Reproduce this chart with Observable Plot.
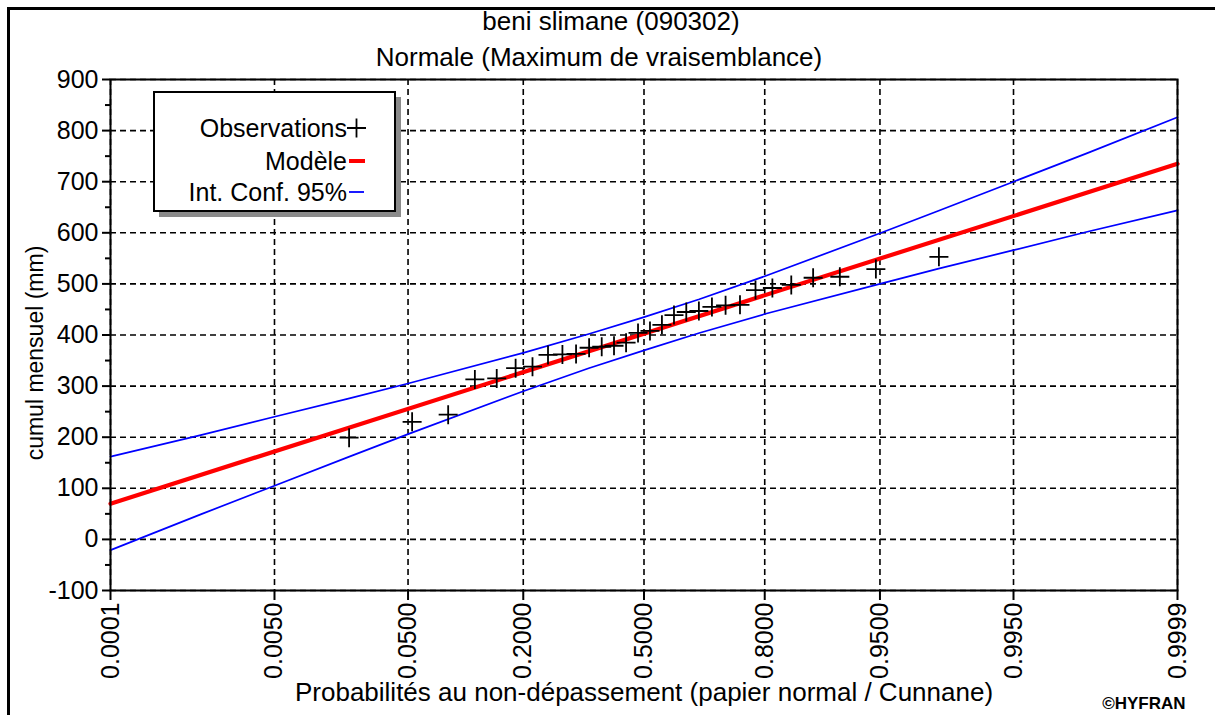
<!DOCTYPE html>
<html>
<head>
<meta charset="utf-8">
<script src="https://cdn.jsdelivr.net/npm/d3@7"></script>
<script src="https://cdn.jsdelivr.net/npm/@observablehq/plot@0.6"></script>
<style>
  html, body { margin: 0; padding: 0; background: #fff; overflow: hidden; }
  #wrap { position: relative; width: 1215px; height: 715px; overflow: hidden; background: #fff; }
  #wrap svg { position: absolute; left: 0; top: 0; }
  #border { position: absolute; left: 7px; top: 7px; width: 1300px; height: 900px; border-left: 3px solid #000; border-top: 3px solid #000; pointer-events: none; }
</style>
</head>
<body>
<div id="wrap"><div id="border"></div></div>
<script>
// ---- data ----
const titleText = "beni slimane (090302)";
const subtitleText = "Normale (Maximum de vraisemblance)";
const xTitle = "Probabilités au non-dépassement (papier normal / Cunnane)";
const yTitle = "cumul mensuel (mm)";

const xTickProbs = [0.0001, 0.005, 0.05, 0.2, 0.5, 0.8, 0.95, 0.995, 0.9999];
const xTickLabels = ["0.0001", "0.0050", "0.0500", "0.2000", "0.5000", "0.8000", "0.9500", "0.9950", "0.9999"];
const yTicks = [-100, 0, 100, 200, 300, 400, 500, 600, 700, 800, 900];
const yMinorTicks = [-50, 50, 150, 250, 350, 450, 550, 650, 750, 850];

// observations (Cunnane plotting positions, values in mm)
const obsProb = [0.0199, 0.0530, 0.0861, 0.1192, 0.1523, 0.1854, 0.2185, 0.2517, 0.2848, 0.3179,
                 0.3510, 0.3841, 0.4172, 0.4503, 0.4834, 0.5166, 0.5497, 0.5828, 0.6159, 0.6490,
                 0.6821, 0.7152, 0.7483, 0.7815, 0.8146, 0.8477, 0.8808, 0.9139, 0.9470, 0.9801];
const obsVal = [199, 230, 244, 313, 315, 335, 338, 361, 362, 363,
                375, 377, 379, 385, 404, 408, 420, 439, 445, 447,
                455, 458, 459, 488, 492, 498, 512, 514, 529, 553];

// fitted normal model
const modelProb = [0.0001, 0.9999];
const modelVal = [70, 735];

// 95% confidence interval
const ciProb  = [0.0001, 0.001, 0.005, 0.02, 0.05, 0.2, 0.35, 0.5, 0.65, 0.8, 0.95, 0.98, 0.995, 0.999, 0.9999];
const ciUpper = [162, 204, 240, 276, 305, 365, 402, 435, 470, 515, 599, 643, 700, 756, 826];
const ciLower = [-21, 49, 105, 162, 206, 290, 335, 370, 404, 441, 500, 530, 566, 602, 644];

// ---- normal probability paper transform (inverse normal CDF, Acklam) ----
function probit(p) {
  const a = [-3.969683028665376e+01, 2.209460984245205e+02, -2.759285104469687e+02, 1.383577518672690e+02, -3.066479806614716e+01, 2.506628277459239e+00];
  const b = [-5.447609879822406e+01, 1.615858368580409e+02, -1.556989798598866e+02, 6.680131188771972e+01, -1.328068155288572e+01];
  const c = [-7.784894002430293e-03, -3.223964580411365e-01, -2.400758277161838e+00, -2.549671910713209e+00, 4.374664141464968e+00, 2.938163982698783e+00];
  const d = [7.784695709041462e-03, 3.224671290700398e-01, 2.445134137142996e+00, 3.754408661907416e+00];
  const pl = 0.02425, ph = 1 - pl;
  let q, r;
  if (p < pl) {
    q = Math.sqrt(-2 * Math.log(p));
    return (((((c[0]*q+c[1])*q+c[2])*q+c[3])*q+c[4])*q+c[5]) / ((((d[0]*q+d[1])*q+d[2])*q+d[3])*q+1);
  }
  if (p > ph) {
    q = Math.sqrt(-2 * Math.log(1 - p));
    return -(((((c[0]*q+c[1])*q+c[2])*q+c[3])*q+c[4])*q+c[5]) / ((((d[0]*q+d[1])*q+d[2])*q+d[3])*q+1);
  }
  q = p - 0.5; r = q * q;
  return (((((a[0]*r+a[1])*r+a[2])*r+a[3])*r+a[4])*r+a[5])*q / (((((b[0]*r+b[1])*r+b[2])*r+b[3])*r+b[4])*r+1);
}

const obs = obsProb.map((p, i) => ({z: probit(p), v: obsVal[i]}));
const model = modelProb.map((p, i) => ({z: probit(p), v: modelVal[i]}));
const upper = ciProb.map((p, i) => ({z: probit(p), v: ciUpper[i]}));
const lower = ciProb.map((p, i) => ({z: probit(p), v: ciLower[i]}));
const xTickZ = xTickProbs.map(probit);
const xLabelOf = z => xTickLabels[xTickZ.indexOf(z)];

const plusSymbol = {
  draw(context, size) {
    const r = Math.sqrt(size / Math.PI);
    context.moveTo(-r, 0); context.lineTo(r, 0);
    context.moveTo(0, -r); context.lineTo(0, r);
  }
};

const FONT = "'Liberation Sans', Arial, sans-serif";
const gridStyle = {stroke: "#000", strokeOpacity: 1, strokeWidth: 1.6, strokeDasharray: "6,4"};
const T = {fontSize: 26, lineAnchor: "middle", textAnchor: "middle"};

const chart = Plot.plot({
  width: 1215,
  height: 715,
  marginTop: 79,
  marginLeft: 110,
  marginRight: 38,
  marginBottom: 125,
  style: {fontFamily: FONT, fontSize: "25px", color: "#000", background: "transparent", overflow: "visible"},
  x: {type: "linear", domain: [probit(0.0001), probit(0.9999)]},
  y: {domain: [-100, 900]},
  marks: [
    Plot.gridX({ticks: xTickZ, ...gridStyle}),
    Plot.gridY({ticks: yTicks, ...gridStyle}),
    Plot.line(upper, {x: "z", y: "v", stroke: "#0000ff", strokeWidth: 1.7}),
    Plot.line(lower, {x: "z", y: "v", stroke: "#0000ff", strokeWidth: 1.7}),
    Plot.line(model, {x: "z", y: "v", stroke: "#ff0000", strokeWidth: 4.2}),
    Plot.dot(obs, {x: "z", y: "v", symbol: plusSymbol, r: 9.5, fill: "none", stroke: "#000", strokeWidth: 1.8}),
    Plot.axisY({ticks: yTicks, tickSize: 8, tickPadding: 4, tickFormat: d => String(d), label: null, stroke: "#000", strokeWidth: 2}),
    Plot.axisY({ticks: yMinorTicks, tickSize: 5, tickFormat: () => "", label: null, stroke: "#000", strokeWidth: 2}),
    Plot.axisX({ticks: xTickZ, tickSize: 10, tickPadding: 2, tickRotate: -90, tickFormat: xLabelOf, label: null, stroke: "#000", strokeWidth: 2}),
    Plot.frame({stroke: "#000", strokeWidth: 2}),
    Plot.text([titleText], {...T, frameAnchor: "top", dx: -33, dy: -58}),
    Plot.text([subtitleText], {...T, frameAnchor: "top", dx: -45, dy: -22}),
    Plot.text([xTitle], {...T, frameAnchor: "bottom", dx: 0, dy: 102}),
    Plot.text([yTitle], {...T, fontSize: 23, frameAnchor: "left", dx: -75, dy: 18, rotate: -90}),
    Plot.text(["©HYFRAN"], {frameAnchor: "bottom-right", textAnchor: "end", lineAnchor: "middle", dx: 8, dy: 113, fontSize: 17, fontWeight: "bold"})
  ]
});

const wrap = document.getElementById("wrap");
wrap.insertBefore(chart, wrap.firstChild);

// ---- legend box ----
const legendItems = ["Observations", "Modèle", "Int. Conf. 95%"];
const legendY = [128, 161, 192];
const leg = d3.select(wrap).append("svg")
  .attr("width", 1215).attr("height", 715)
  .style("pointer-events", "none")
  .style("font-family", FONT).style("font-size", "25px");
leg.append("rect").attr("x", 159).attr("y", 97).attr("width", 242).attr("height", 120).attr("fill", "#8a8a8a");
leg.append("rect").attr("x", 154).attr("y", 92).attr("width", 241).attr("height", 119)
  .attr("fill", "#fff").attr("stroke", "#000").attr("stroke-width", 2);
legendItems.forEach((t, i) => {
  leg.append("text").attr("x", 347).attr("y", legendY[i]).attr("dy", "0.35em")
    .attr("text-anchor", "end").attr("fill", "#000").text(t);
});
leg.append("path").attr("d", `M347,${legendY[0]}H366M356.5,${legendY[0] - 9.5}V${legendY[0] + 9.5}`)
  .attr("stroke", "#000").attr("stroke-width", 1.8).attr("fill", "none");
leg.append("path").attr("d", `M349,${legendY[1]}H365`).attr("stroke", "#ff0000").attr("stroke-width", 4);
leg.append("path").attr("d", `M349,${legendY[2]}H364`).attr("stroke", "#0000ff").attr("stroke-width", 1.8);
</script>
</body>
</html>
